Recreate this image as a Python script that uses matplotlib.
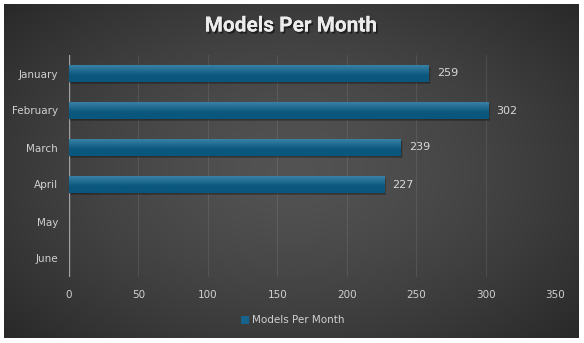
import numpy as np
import matplotlib
matplotlib.use("Agg")
import matplotlib.pyplot as plt
import matplotlib.patheffects as pe
from matplotlib.patches import Rectangle

months = ["January", "February", "March", "April", "May", "June"]
models = [259, 302, 239, 227, None, None]
x_ticks = [0, 50, 100, 150, 200, 250, 300, 350]
series_name = "Models Per Month"

W, H = 584, 343
fig = plt.figure(figsize=(W / 100, H / 100), dpi=100)
fig.patch.set_facecolor("white")

# radial-gradient backdrop of the chart area
bg = fig.add_axes([4 / W, 5 / H, 575 / W, 334 / H])
bg.set_axis_off()
yy, xx = np.mgrid[-1:1:300j, -1:1:500j]
r = np.sqrt((xx * 0.92) ** 2 + (yy * 0.85) ** 2)
val = np.clip(0.325 - 0.12 * r ** 1.4, 0.15, 0.33)
bg.imshow(np.dstack([val, val, val]), aspect="auto", extent=[0, 1, 0, 1])
bg.set_xlim(0, 1)
bg.set_ylim(0, 1)

ax = fig.add_axes([69 / W, (H - 277) / H, (555 - 69) / W, (277 - 55) / H])
ax.set_facecolor("none")
ax.set_xticks(x_ticks)
ax.set_xticklabels([str(t) for t in x_ticks])
ax.set_yticks(range(len(months)))
ax.set_yticklabels(months)
ax.tick_params(axis="both", length=0, colors="#d0d0d0", labelsize=7.5)
ax.tick_params(axis="y", pad=8)
ax.tick_params(axis="x", pad=9)
for s in ax.spines.values():
    s.set_visible(False)
ax.grid(axis="x", color="white", alpha=0.09, linewidth=0.8)
ax.set_axisbelow(True)
ax.axvline(0, color="#a0a0a0", linewidth=1.0, zorder=2)

bar_h = 0.46
grad = np.linspace(0, 1, 64).reshape(-1, 1)
top_c = np.array([0x3e, 0x84, 0xa9]) / 255
bot_c = np.array([0x0b, 0x57, 0x7e]) / 255
grad_img = top_c + (bot_c - top_c) * np.clip(grad * 1.6, 0, 1)[..., None]
grad_img = grad_img.reshape(64, 1, 3)

for i, v in enumerate(models):
    if v is None:
        continue
    # soft drop shadow
    for k, a in enumerate([0.10, 0.12, 0.15]):
        off = 1 - k * 0.3
        sh = Rectangle((0.6 * off, i - bar_h / 2 + 0.06 * off), v + 0.8 * off, bar_h,
                       facecolor="black", alpha=a, edgecolor="none", zorder=3)
        ax.add_patch(sh)
    bar = ax.barh(i, v, height=bar_h, color="none", edgecolor="none", zorder=4)[0]
    im = ax.imshow(grad_img, aspect="auto",
                   extent=[0, v, i + bar_h / 2, i - bar_h / 2], zorder=4,
                   interpolation="bilinear")
    im.set_clip_path(bar)
    ax.text(v + 6, i, str(v), va="center", ha="left", color="#d9d9d9",
            fontsize=8, zorder=5)

ax.set_xlim(0, 350)
ax.set_ylim(len(months) - 0.5, -0.5)

fig.text(0.5 - 0.5 / W, (H - 26) / H, "Models Per Month", ha="center", va="center",
         fontsize=15, fontweight="bold", color="#ececec", family="Roboto",
         path_effects=[pe.withSimplePatchShadow(offset=(1.2, -1.5), shadow_rgbFace="black", alpha=0.5),
                       pe.Normal()])

# legend
fig.patches.append(Rectangle((241 / W, (H - 324) / H), 8 / W, 8 / H,
                             transform=fig.transFigure, facecolor="#16648c",
                             edgecolor="none"))
fig.text(252 / W, (H - 320) / H, series_name, ha="left", va="center",
         color="#d0d0d0", fontsize=7.5)

fig.savefig("out.png", dpi=100, facecolor=fig.get_facecolor())
